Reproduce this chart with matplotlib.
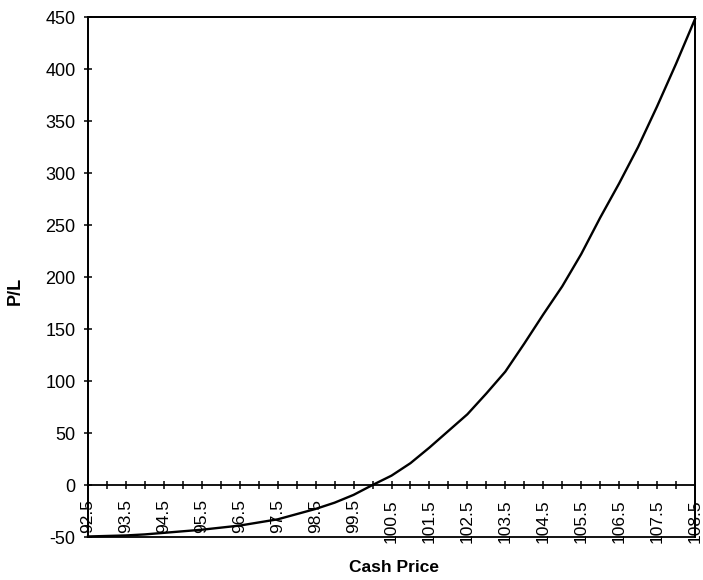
import matplotlib
matplotlib.use("Agg")
import matplotlib.pyplot as plt
from matplotlib.patches import Rectangle
from matplotlib.ticker import MultipleLocator, FixedLocator, FixedFormatter

plt.rcParams['font.family'] = ['Liberation Sans', 'DejaVu Sans']
plt.rcParams['axes.unicode_minus'] = False

cash_price = [92.5, 93.0, 93.5, 94.0, 94.5, 95.0, 95.5, 96.0, 96.5, 97.0, 97.5,
              98.0, 98.5, 99.0, 99.5, 100.0, 100.5, 101.0, 101.5, 102.0, 102.5,
              103.0, 103.5, 104.0, 104.5, 105.0, 105.5, 106.0, 106.5, 107.0,
              107.5, 108.0, 108.5]
pl = [-49.5, -49, -48.5, -47.5, -46, -44.5, -43, -41, -39, -36, -33,
      -28, -23, -17, -9.5, 0, 9, 21, 36, 52, 68,
      88, 109, 136, 164, 191, 222, 257, 290, 325,
      364, 405, 448]
label_prices = [92.5, 93.5, 94.5, 95.5, 96.5, 97.5, 98.5, 99.5, 100.5, 101.5,
                102.5, 103.5, 104.5, 105.5, 106.5, 107.5, 108.5]
y_ticks = [-50, 0, 50, 100, 150, 200, 250, 300, 350, 400, 450]

fig = plt.figure(figsize=(7.03, 5.8), dpi=100)
ax = fig.add_axes([88/703, 1-537/580, (695-88)/703, (537-17)/580])

ax.plot(cash_price, pl, color='black', lw=1.7, clip_on=False, zorder=3)

ax.set_xlim(92.5, 108.5)
ax.set_ylim(-50, 450)

# x axis crossing at zero
ax.spines['bottom'].set_position(('data', 0))
for s in ['bottom', 'left', 'top', 'right']:
    ax.spines[s].set_linewidth(1.3)
    ax.spines[s].set_color('black')
ax.add_patch(Rectangle((0, 0), 1, 1, transform=ax.transAxes, fill=False,
                       lw=1.3, edgecolor='black', clip_on=False, zorder=4))

ax.xaxis.set_major_locator(FixedLocator(label_prices))
ax.xaxis.set_major_formatter(FixedFormatter([f"{v:g}" for v in label_prices]))
ax.xaxis.set_minor_locator(MultipleLocator(1.0, offset=0.0))
ax.tick_params(axis='x', which='both', direction='inout', length=6, width=1.1,
               top=False, labelsize=12.5, pad=7)
ax.tick_params(axis='x', which='major', labelrotation=90)
for lab in ax.get_xticklabels():
    lab.set_va('top')

ax.set_yticks(y_ticks)
ax.tick_params(axis='y', direction='inout', length=6, width=1.1,
               labelsize=13, pad=6)

fig.text(394/703, 1-568/580, 'Cash Price', ha='center', va='center',
         fontsize=12.5, fontweight='bold')
fig.text(15/703, 1-291/580, 'P/L', ha='center', va='center', rotation=90,
         fontsize=13, fontweight='bold')

fig.savefig('out.png', dpi=100)
